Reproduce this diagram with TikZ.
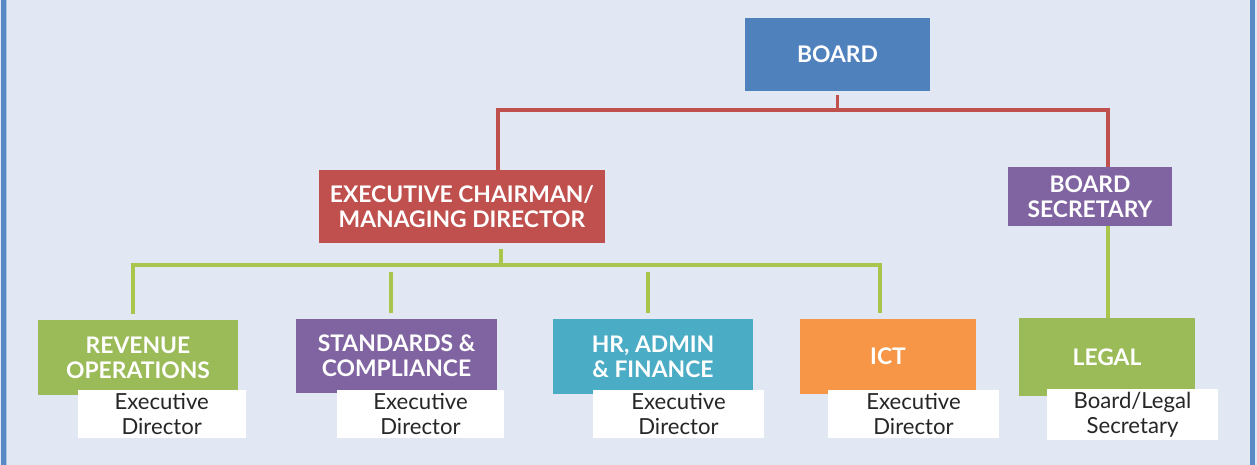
\documentclass[tikz,border=0pt]{standalone}
\usepackage{fontspec}
\setmainfont{Lato}
\usetikzlibrary{calc}
\definecolor{bgcol}{HTML}{E1E8F4}
\definecolor{framecol}{HTML}{5A8AC6}
\definecolor{boardblue}{HTML}{4F81BD}
\definecolor{chairred}{HTML}{C0504D}
\definecolor{secpurple}{HTML}{8064A2}
\definecolor{opsgreen}{HTML}{9BBB59}
\definecolor{hrteal}{HTML}{4BACC6}
\definecolor{ictorange}{HTML}{F79646}
\definecolor{edgray}{HTML}{262626}
\tikzset{
  unit/.style={rectangle,inner sep=0pt,align=center,text=white,
               font=\bfseries\fontsize{13}{14.2}\selectfont},
  edbox/.style={rectangle,fill=white,inner sep=0pt,align=center,text=edgray,
                font=\fontsize{12.6}{14.2}\selectfont},
  boss line/.style={line width=2pt,chairred},
  staff line/.style={line width=2pt,opsgreen!85!yellow}}

\begin{document}
\begin{tikzpicture}[x=0.02cm,y=-0.02cm]
  \def\uh{1.5cm}   % height of the lower units
  \def\eh{0.96cm}  % height of the white title boxes
  \coordinate (rl) at (498,110);   % red bus, left end
  \coordinate (rr) at (1108,110);  % red bus, right end
  \coordinate (gl) at (133,265);   % green bus, left end
  \coordinate (gm) at (501,265);   % green bus, under chairman
  \coordinate (g2) at (391,265);   % drop to standards
  \coordinate (g3) at (648,265);   % drop to hr
  \coordinate (gr) at (880,265);   % green bus, right end

  % BACKGROUND
  \fill[bgcol] (0,0) rectangle (1257,465);
  \fill[framecol] (1,0) rectangle (5.5,465);        % left frame
  \fill[framecol!50!white] (5.5,0) rectangle (6.5,465);
  \fill[framecol] (1250,0) rectangle (1255,465);    % right frame

  % UNITS
  \node[unit,fill=boardblue,minimum width=3.7cm,minimum height=1.46cm] (board) at (837.5,54.5) {BOARD};
  \node[unit,fill=chairred,minimum width=5.72cm,minimum height=1.46cm] (exec) at (462,206.5) {EXECUTIVE CHAIRMAN/\\MANAGING DIRECTOR};
  \node[unit,fill=secpurple,minimum width=3.28cm,minimum height=1.18cm] (bsec) at (1090,196.5) {BOARD\\SECRETARY};
  \node[unit,fill=opsgreen,minimum width=4.02cm,minimum height=\uh] (rev) at (138,357.5) {REVENUE\\OPERATIONS};
  \node[unit,fill=secpurple,minimum width=4.02cm,minimum height=1.48cm] (std) at (396.5,356) {STANDARDS \&\\COMPLIANCE};
  \node[unit,fill=hrteal,minimum width=4.0cm,minimum height=\uh] (hr) at (653,356.5) {HR, ADMIN\\\& FINANCE};
  \node[unit,fill=ictorange,minimum width=3.52cm,minimum height=\uh] (ict) at (888,356.5) {ICT};
  \node[unit,fill=opsgreen,minimum width=3.52cm,minimum height=1.56cm] (legal) at (1107,357) {LEGAL};

  % TITLES
  \node[edbox,minimum width=3.36cm,minimum height=\eh] (reved) at (161.7,414) {Executive\\Director};
  \node[edbox,minimum width=3.36cm,minimum height=\eh] (stded) at (420.5,414) {Executive\\Director};
  \node[edbox,minimum width=3.42cm,minimum height=\eh] (hred) at (678.5,414) {Executive\\Director};
  \node[edbox,minimum width=3.42cm,minimum height=\eh] (icted) at (913.5,414) {Executive\\Director};
  \node[edbox,minimum width=3.42cm,minimum height=1.04cm] (legaled) at (1132.5,414.5) {Board/Legal\\Secretary};

  % LINES
  \draw[boss line] ([yshift=-2pt]board.south) -- (board.south |- rl);      % board down
  \draw[boss line] (exec.north -| rl) -- (rl) -- (rr) -- (bsec.north -| rr); % red bus
  \draw[staff line] ([yshift=-3pt]exec.south -| gm) -- (gm);               % chairman down
  \draw[staff line] ([yshift=3pt]rev.north -| gl) -- (gl) -- (gr) -- ([yshift=3pt]ict.north -| gr); % green bus
  \draw[staff line,shorten >=4pt] ([yshift=3pt]std.north -| g2) -- (g2);
  \draw[staff line,shorten >=4pt] ([yshift=3pt]hr.north -| g3) -- (g3);
  \draw[staff line] (bsec.south -| rr) -- (legal.north -| rr);              % secretary to legal

\end{tikzpicture}
\end{document}
